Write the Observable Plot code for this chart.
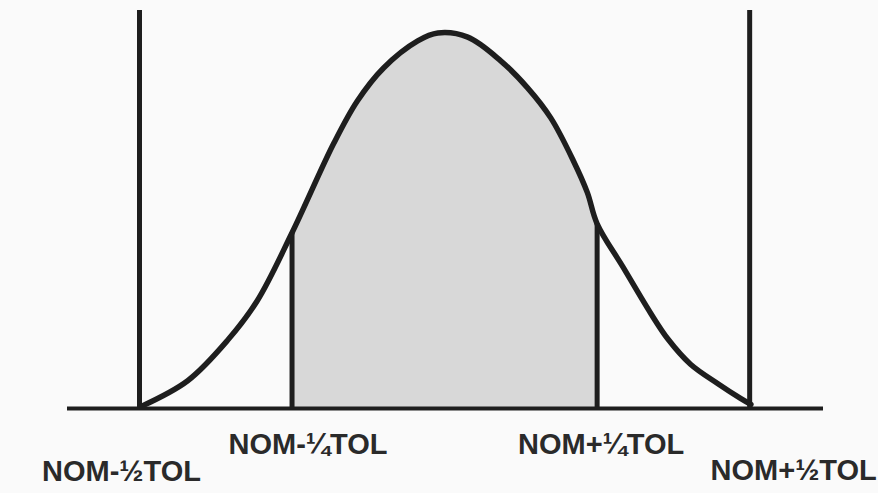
<!DOCTYPE html>
<html>
<head>
<meta charset="utf-8">
<script src="https://cdn.jsdelivr.net/npm/d3@7"></script>
<script src="https://cdn.jsdelivr.net/npm/@observablehq/plot@0.6"></script>
<style>
  html, body { margin: 0; padding: 0; background: #fafafa; }
  #chart { width: 878px; height: 493px; }
</style>
</head>
<body>
<div id="chart"></div>
<script>
// Tolerance positions (in TOL units relative to nominal)
const tolMarks = [-0.5, -0.25, 0.25, 0.5];
const tolLabels = ["NOM-½TOL", "NOM-¼TOL", "NOM+¼TOL", "NOM+½TOL"];

// Distribution curve (x in TOL units, y relative height)
const curveX = [-0.498, -0.421, -0.356, -0.307, -0.25, -0.182, -0.143, -0.100, -0.044, -0.011,
                0.038, 0.092, 0.136, 0.174, 0.211, 0.234, 0.25, 0.293, 0.338, 0.366, 0.403, 0.448, 0.485, 0.502];
const curveY = [0.005, 0.074, 0.181, 0.287, 0.468, 0.705, 0.819, 0.907, 0.979, 1.0,
                0.989, 0.926, 0.854, 0.774, 0.660, 0.575, 0.492, 0.375, 0.253, 0.185, 0.118, 0.066, 0.027, 0.011];

const curve = curveX.map((x, i) => ({x, y: curveY[i]}));
const shaded = curve.filter(d => d.x >= -0.25 && d.x <= 0.25);
const quarter = curve.filter(d => d.x === -0.25 || d.x === 0.25);
const half = tolMarks.filter(t => Math.abs(t) === 0.5);

const ink = "#1e1e1e";
const font = {fontFamily: "'Liberation Sans', Arial, sans-serif", fontWeight: "bold", fontSize: 29, fill: "#2a2a2a", lineAnchor: "bottom"};

const label = (i, dx, dy) => Plot.text([tolMarks[i]], {x: d => d, y: 0, text: () => tolLabels[i], dx, dy, ...font});

const chart = Plot.plot({
  width: 878,
  height: 493,
  marginLeft: 67,
  marginRight: 55,
  marginTop: 10,
  marginBottom: 85,
  x: {domain: [-0.618, 0.621], axis: null},
  y: {domain: [0, 1.06], axis: null},
  style: {background: "transparent", overflow: "visible"},
  marks: [
    Plot.areaY(shaded, {x: "x", y: "y", fill: "#d8d8d8", curve: "catmull-rom"}),
    Plot.ruleX(half, {x: d => d, y1: 0, y2: 1.06, stroke: ink, strokeWidth: 5}),
    Plot.ruleX(quarter, {x: "x", y1: 0, y2: "y", stroke: ink, strokeWidth: 5}),
    Plot.line(curve, {x: "x", y: "y", stroke: ink, strokeWidth: 5.5, curve: "catmull-rom"}),
    Plot.ruleY([0], {stroke: ink, strokeWidth: 4}),
    label(0, -18, 72),
    label(1, 16, 45),
    label(2, 4, 45),
    label(3, 44, 71)
  ]
});
document.getElementById("chart").appendChild(chart);
</script>
</body>
</html>
